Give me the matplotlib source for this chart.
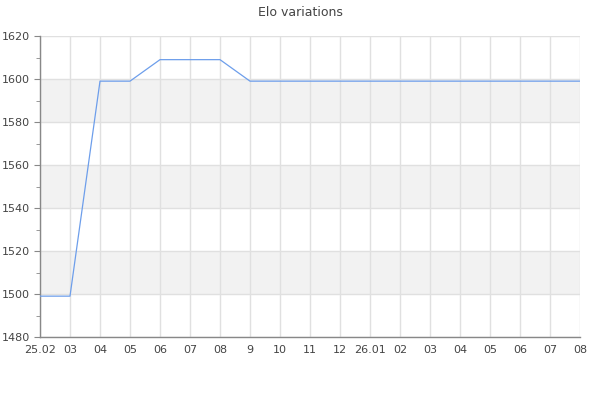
import matplotlib
matplotlib.use("Agg")
import matplotlib.pyplot as plt
from matplotlib.ticker import MultipleLocator

labels = ["25.02", "03", "04", "05", "06", "07", "08", "9", "10", "11", "12",
          "26.01", "02", "03", "04", "05", "06", "07", "08"]
elo = [1499, 1499, 1599, 1599, 1609, 1609, 1609, 1599, 1599, 1599, 1599,
       1599, 1599, 1599, 1599, 1599, 1599, 1599, 1599]

fig = plt.figure(figsize=(6, 4), dpi=100)
ax = fig.add_axes([40/600, 63/400, 540/600, 301/400])

x = list(range(len(labels)))
ymin, ymax = 1480, 1620
for lo in range(1500, 1620, 40):
    ax.axhspan(lo, lo + 20, color="#f2f2f2", zorder=0, lw=0)

ax.plot(x, elo, color="#6d9eeb", lw=0.9, zorder=3)

ax.set_xlim(0, len(labels) - 1)
ax.set_ylim(ymin, ymax)
ax.set_xticks(x)
ax.set_xticklabels(labels)
ax.yaxis.set_major_locator(MultipleLocator(20))
ax.yaxis.set_minor_locator(MultipleLocator(10))
ax.grid(True, which="major", color="#e0e0e0", lw=1, zorder=1)
ax.set_axisbelow(True)

for s in ["top", "right"]:
    ax.spines[s].set_visible(False)
for s in ["left", "bottom"]:
    ax.spines[s].set_color("#888888")
    ax.spines[s].set_linewidth(1)

ax.tick_params(axis="x", length=0, pad=6, labelsize=8, labelcolor="#444444")
ax.tick_params(axis="y", which="major", length=4, color="#888888", labelsize=8, labelcolor="#444444")
ax.tick_params(axis="y", which="minor", length=3, color="#888888")

fig.suptitle("Elo variations", y=0.985, fontsize=9, color="#444444")

fig.savefig("out.png", dpi=100)
